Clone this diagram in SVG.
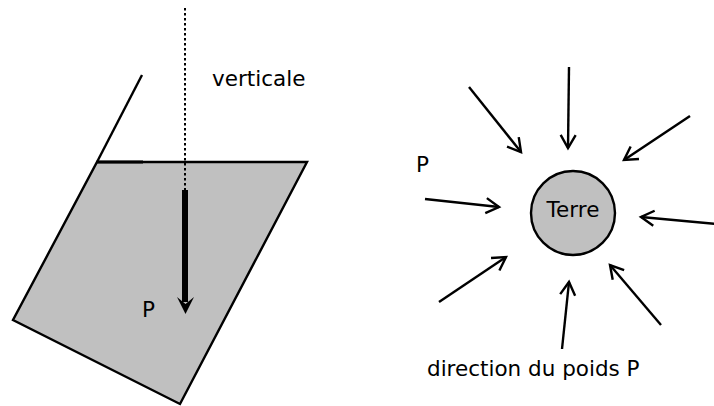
<svg xmlns="http://www.w3.org/2000/svg" width="714" height="406" viewBox="0 0 714 406">
<defs>
<style>
.t{font-family:"DejaVu Sans",Verdana,sans-serif;font-size:21.5px;fill:#000}
.ln{stroke:#000;stroke-width:2.4;fill:none}
.ar{stroke:#000;stroke-width:2.4;fill:none;marker-end:url(#vh)}
</style>
<marker id="vh" viewBox="-15 -10 18 20" markerWidth="18" markerHeight="20" refX="0" refY="0" orient="auto" markerUnits="userSpaceOnUse">
<path d="M-13,-7.5 L0,0 L-13,7.5" fill="none" stroke="#000" stroke-width="2.4"/>
</marker>
</defs>
<rect width="714" height="406" fill="#fff"/>
<g id="container">
<polygon points="97,162 307,162 180,404 13,320" fill="#c0c0c0" stroke="#000" stroke-width="2.4" stroke-linejoin="miter"/>
<line x1="142" y1="75" x2="97" y2="162" class="ln"/>
<line x1="97" y1="162" x2="143" y2="162" stroke="#000" stroke-width="3"/>
</g>
<g id="verticale">
<line x1="185" y1="8" x2="185" y2="190" stroke="#000" stroke-width="2" stroke-dasharray="2.5 2.5"/>
<text class="t" x="212" y="86">verticale</text>
</g>
<g id="poids-gauche">
<line x1="185" y1="190" x2="185" y2="302" stroke="#000" stroke-width="6"/>
<path d="M185.5,314 L177,297 L185.5,304 L194,297 Z" fill="#000"/>
<text class="t" x="142" y="317">P</text>
</g>
<g id="terre">
<circle cx="573" cy="213" r="42" fill="#c0c0c0" stroke="#000" stroke-width="2.4"/>
<text class="t" x="573" y="217" text-anchor="middle">Terre</text>
</g>
<g id="connectors">
<line class="ar" x1="569" y1="67" x2="568" y2="148"/>
<line class="ar" x1="469" y1="87" x2="521" y2="152"/>
<line class="ar" x1="690" y1="116" x2="624" y2="160"/>
<line class="ar" x1="425" y1="199" x2="499" y2="207"/>
<line class="ar" x1="716" y1="224" x2="641" y2="217"/>
<line class="ar" x1="439" y1="302" x2="506" y2="257"/>
<line class="ar" x1="562" y1="349" x2="569" y2="282"/>
<line class="ar" x1="661" y1="325" x2="610" y2="265"/>
</g>
<g id="labels">
<text class="t" x="416" y="172">P</text>
<text class="t" x="427" y="376">direction du poids P</text>
</g>
</svg>
